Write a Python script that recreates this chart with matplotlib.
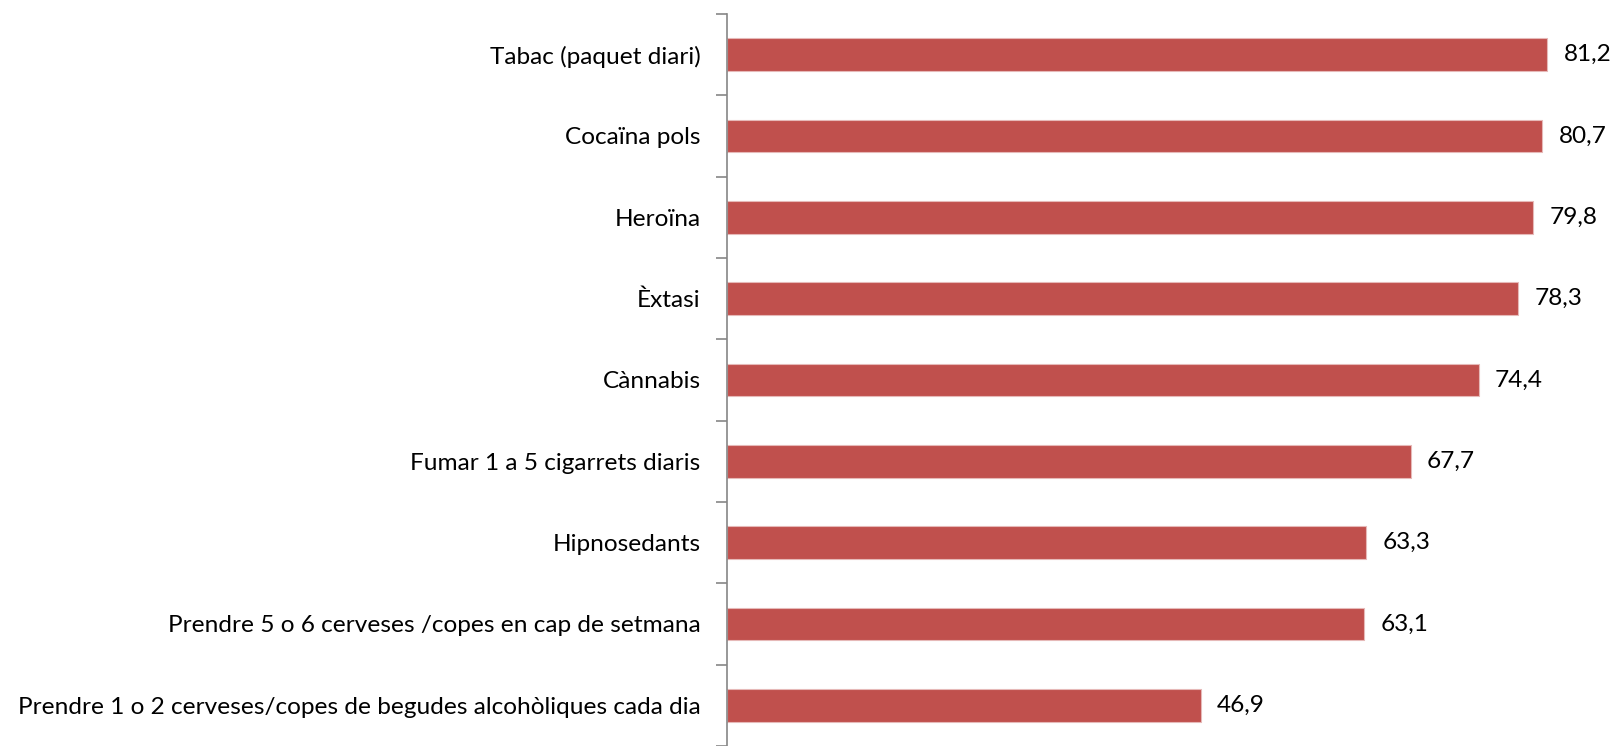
import matplotlib.pyplot as plt

# Percentatge que considera que el consum comporta molts problemes
categories = [
    'Tabac (paquet diari)',
    'Cocaïna pols',
    'Heroïna',
    'Èxtasi',
    'Cànnabis',
    'Fumar 1 a 5 cigarrets diaris',
    'Hipnosedants',
    'Prendre 5 o 6 cerveses /copes en cap de setmana',
    'Prendre 1 o 2 cerveses/copes de begudes alcohòliques cada dia',
]
valors = [81.2, 80.7, 79.8, 78.3, 74.4, 67.7, 63.3, 63.1, 46.9]

plt.rcParams['font.family'] = ['Lato', 'DejaVu Sans']

fig = plt.figure(figsize=(16.16, 7.46), dpi=100)
ax = fig.add_axes([727 / 1616, 0, 889 / 1616, 1 - 14 / 746])

pos = range(len(categories))
ax.barh(pos, valors, height=0.4, color='#C0504D', edgecolor='#E6B9B8', linewidth=0.8)

for i, v in enumerate(valors):
    ax.text(v + 1.6, i, f'{v:.1f}'.replace('.', ','), va='center', ha='left', fontsize=17.6)

ax.set_xlim(0, 88)
ax.set_ylim(-0.5 + 732 / 81.7, -0.5)

# les marques separen les categories
ax.set_yticks([i - 0.5 for i in range(len(categories) + 1)])
ax.set_yticklabels([])
ax.set_yticks(list(pos), minor=True)
ax.set_yticklabels(categories, minor=True, fontsize=17.6)
ax.tick_params(axis='y', which='major', length=8, width=1.2, color='#868686', direction='out')
ax.tick_params(axis='y', which='minor', length=0, pad=19)
ax.set_xticks([])

for s in ['top', 'right', 'bottom']:
    ax.spines[s].set_visible(False)
ax.spines['left'].set_color('#868686')
ax.spines['left'].set_linewidth(1.2)

fig.savefig('out.png', dpi=100)
